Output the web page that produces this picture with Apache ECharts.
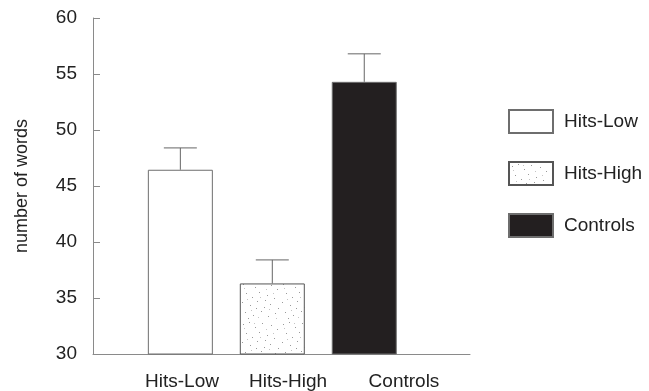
<!DOCTYPE html>
<html>
<head>
<meta charset="utf-8">
<script src="https://cdn.jsdelivr.net/npm/echarts@6/dist/echarts.min.js"></script>
<style>html,body{margin:0;padding:0;background:#fff}#c{width:649px;height:391px}</style>
</head>
<body>
<div id="c"></div>
<script>
// ---- data ----
const categories = ['Hits-Low', 'Hits-High', 'Controls'];
const means = [46.45, 36.3, 54.3];
const errors = [1.95, 2.1, 2.5];
const yTicks = [30, 35, 40, 45, 50, 55, 60];
const yAxisName = 'number of words';

// ---- layout (not data) ----
const labelPos = [1.018, 2.171, 3.432];
const font = 'Liberation Sans, Arial, Helvetica, sans-serif';

// speckle texture for the Hits-High bar
function speckle() {
  const c = document.createElement('canvas');
  c.width = 40; c.height = 40;
  const g = c.getContext('2d');
  g.fillStyle = '#ffffff'; g.fillRect(0, 0, 40, 40);
  g.fillStyle = '#9a9a9a';
  const dots = [[3,4],[9,2],[15,7],[22,3],[31,5],[37,9],[6,13],[12,17],[19,12],[27,15],[34,18],
    [2,22],[10,25],[17,21],[24,27],[30,24],[38,28],[5,32],[13,35],[21,31],[28,36],[35,33],[8,38],[25,20],[16,28]];
  dots.forEach(d => g.fillRect(d[0], d[1], 1, 1));
  g.fillStyle = '#c4c4c4';
  [[4,8],[14,3],[26,9],[33,13],[7,19],[20,17],[29,29],[11,30],[36,38],[18,37]].forEach(d => g.fillRect(d[0], d[1], 1, 1));
  return c;
}

const styles = [
  { color: '#ffffff', borderColor: '#6e6e6e', borderWidth: 1 },
  { color: { image: speckle(), repeat: 'repeat' }, borderColor: '#555555', borderWidth: 1 },
  { color: '#231f20', borderColor: '#6e6e6e', borderWidth: 1 }
];

const barSeries = categories.map((name, i) => ({
  name: name,
  type: 'bar',
  barWidth: 65,
  barGap: '-100%',
  itemStyle: styles[i],
  data: [[i + 1, means[i]]],
  silent: true
}));

const errSeries = {
  type: 'custom',
  silent: true,
  z: 5,
  data: means.map((m, i) => [i + 1, m, m + errors[i]]),
  renderItem: function (params, api) {
    const x = api.value(0);
    const p0 = api.coord([x, api.value(1)]);
    const p1 = api.coord([x, api.value(2)]);
    const hw = 16.5;
    const st = { stroke: '#666666', lineWidth: 1 };
    return {
      type: 'group',
      children: [
        { type: 'line', shape: { x1: p0[0], y1: p0[1], x2: p1[0], y2: p1[1] }, style: st },
        { type: 'line', shape: { x1: p1[0] - hw, y1: p1[1], x2: p1[0] + hw, y2: p1[1] }, style: st }
      ]
    };
  }
};

const chart = echarts.init(document.getElementById('c'));
chart.setOption({
  animation: false,
  backgroundColor: '#ffffff',
  grid: { left: 93, right: 179, top: 18, bottom: 35 },
  legend: {
    orient: 'vertical',
    left: 503,
    top: 104,
    itemWidth: 44,
    itemHeight: 23,
    itemGap: 27,
    icon: 'rect',
    data: categories,
    selectedMode: false,
    textStyle: { fontFamily: font, fontSize: 19, color: '#222', padding: [0, 0, 0, 6] }
  },
  xAxis: {
    type: 'value',
    min: 0.05,
    max: 4.15,
    splitLine: { show: false },
    axisLine: { show: true, lineStyle: { color: '#8a8a8a', width: 1 } },
    axisTick: { show: false },
    axisLabel: {
      customValues: labelPos,
      margin: 18,
      fontFamily: font,
      fontSize: 19,
      color: '#222',
      formatter: function (v) {
        let best = 0;
        labelPos.forEach((p, i) => { if (Math.abs(p - v) < Math.abs(labelPos[best] - v)) best = i; });
        return categories[best];
      }
    }
  },
  yAxis: {
    type: 'value',
    min: yTicks[0],
    max: yTicks[yTicks.length - 1],
    interval: yTicks[1] - yTicks[0],
    name: yAxisName,
    nameLocation: 'middle',
    nameGap: 62,
    nameTextStyle: { fontFamily: font, fontSize: 18, color: '#222' },
    splitLine: { show: false },
    axisLine: { show: true, lineStyle: { color: '#8a8a8a', width: 1 } },
    axisTick: { show: true, inside: true, length: 7, lineStyle: { color: '#8a8a8a' } },
    axisLabel: { margin: 16, fontFamily: font, fontSize: 19, color: '#222' }
  },
  series: barSeries.concat([errSeries])
});
</script>
</body>
</html>
